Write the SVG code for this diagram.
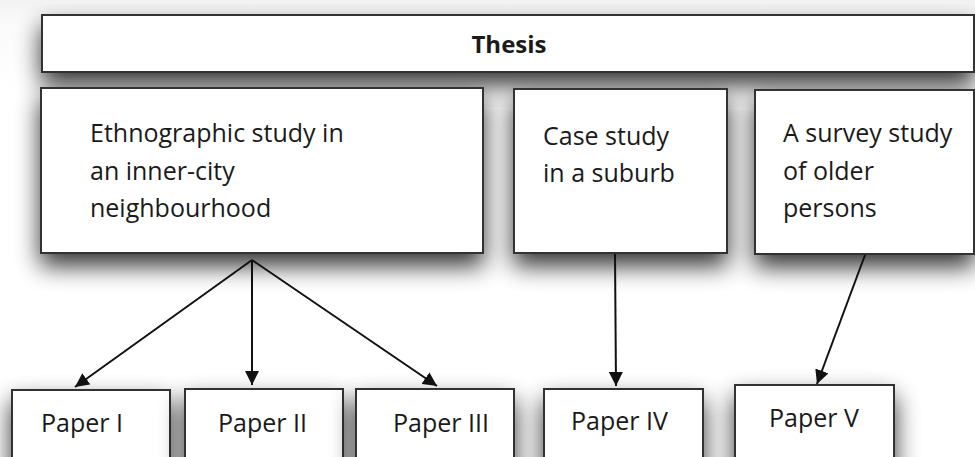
<svg xmlns="http://www.w3.org/2000/svg" width="975" height="457" viewBox="0 0 975 457">
<defs>
<filter id="sh" x="-30%" y="-40%" width="160%" height="200%">
<feGaussianBlur in="SourceAlpha" stdDeviation="12"/>
<feOffset dx="0" dy="12" result="b"/>
<feComponentTransfer><feFuncA type="linear" slope="0.8"/></feComponentTransfer>
<feMerge><feMergeNode/><feMergeNode in="SourceGraphic"/></feMerge>
</filter>
<marker id="ah" viewBox="0 0 14 14" refX="14" refY="7" markerWidth="14" markerHeight="14" markerUnits="userSpaceOnUse" orient="auto">
<path d="M0,0 L14,7 L0,14 z" fill="#111"/>
</marker>
<linearGradient id="bg" x1="0" y1="0" x2="0" y2="1">
<stop offset="0" stop-color="#f2f2f2"/><stop offset="0.05" stop-color="#fafafa"/><stop offset="0.2" stop-color="#ffffff"/>
</linearGradient>
</defs>
<style>
.box{fill:#fff;stroke:#333;stroke-width:2}
.t{font-family:"Open Sans","Liberation Sans",sans-serif;font-size:25px;fill:#1a1a1a}
.b{font-weight:bold;font-size:24px}
.c{stroke:#111;stroke-width:2;fill:none;marker-end:url(#ah)}
</style>
<rect width="975" height="457" fill="url(#bg)"/>
<g id="thesis">
<rect class="box" x="42" y="15" width="932" height="57" filter="url(#sh)"/>
<text class="t b" x="509" y="53" text-anchor="middle">Thesis</text>
</g>
<g id="ethno">
<rect class="box" x="41" y="88" width="442" height="165" filter="url(#sh)"/>
<text class="t" x="90" y="142">Ethnographic study in</text>
<text class="t" x="90" y="180">an inner-city</text>
<text class="t" x="90" y="217">neighbourhood</text>
</g>
<g id="case">
<rect class="box" x="514" y="89" width="213" height="164" filter="url(#sh)"/>
<text class="t" x="543" y="145">Case study</text>
<text class="t" x="543" y="182">in a suburb</text>
</g>
<g id="survey">
<rect class="box" x="755" y="90" width="219" height="164" filter="url(#sh)"/>
<text class="t" x="783" y="142">A survey study</text>
<text class="t" x="783" y="180">of older</text>
<text class="t" x="783" y="217">persons</text>
</g>
<g id="p1">
<rect class="box" x="12" y="390" width="158" height="90" filter="url(#sh)"/>
<text class="t" x="41" y="432">Paper I</text>
</g>
<g id="p2">
<rect class="box" x="185" y="389" width="158" height="90" filter="url(#sh)"/>
<text class="t" x="218" y="432">Paper II</text>
</g>
<g id="p3">
<rect class="box" x="356" y="389" width="158" height="90" filter="url(#sh)"/>
<text class="t" x="393" y="432">Paper III</text>
</g>
<g id="p4">
<rect class="box" x="544" y="389" width="159" height="90" filter="url(#sh)"/>
<text class="t" x="571" y="430">Paper IV</text>
</g>
<g id="p5">
<rect class="box" x="735" y="385" width="159" height="90" filter="url(#sh)"/>
<text class="t" x="769" y="427">Paper V</text>
</g>
<g id="connectors">
<line class="c" x1="252" y1="260" x2="75" y2="387"/>
<line class="c" x1="252" y1="260" x2="252" y2="385"/>
<line class="c" x1="252" y1="260" x2="437" y2="386"/>
<line class="c" x1="615" y1="254" x2="616" y2="386"/>
<line class="c" x1="865" y1="255" x2="817" y2="384"/>
</g>
</svg>
